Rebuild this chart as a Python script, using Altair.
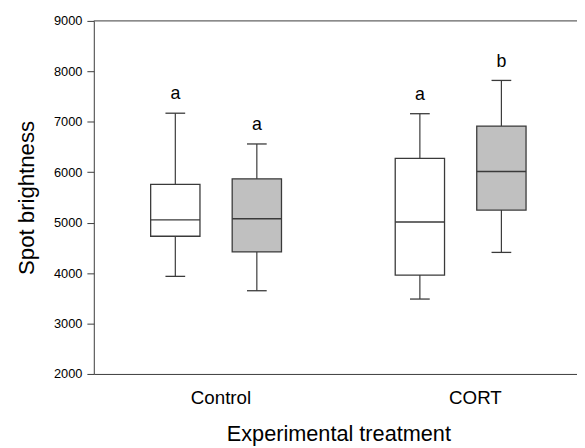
import altair as alt
import pandas as pd

groups = ["Control", "Control", "CORT", "CORT"]
series = ["A", "B", "A", "B"]
wmin = [3935, 3650, 3485, 4410]
q1 = [4730, 4420, 3960, 5250]
med = [5055, 5075, 5015, 6015]
q3 = [5760, 5870, 6275, 6915]
wmax = [7170, 6560, 7160, 7820]
letters = ["a", "a", "a", "b"]
fills = ["white", "#c0c0c0"]

df = pd.DataFrame({
    "group": groups, "series": series, "wmin": wmin, "q1": q1,
    "med": med, "q3": q3, "wmax": wmax, "letter": letters,
})

FONT = "Liberation Sans"
LINE = "#3a3a3a"

xenc = alt.X(
    "group:N", sort=["Control", "CORT"],
    scale=alt.Scale(paddingInner=0, paddingOuter=0),
    axis=alt.Axis(
        title="Experimental treatment", labelAngle=0, ticks=False,
        labelFontSize=19, labelPadding=15,
        labelOffset={"condition": {"test": "datum.label == 'CORT'", "value": 15}, "value": 5},
        labelColor="black",
        titleFontSize=22, titleFontWeight="normal", titlePadding=17, titleX=248,
        titleColor="black", domainColor=LINE, labelFont=FONT, titleFont=FONT,
    ),
)
xoff = alt.XOffset("series:N", scale=alt.Scale(paddingInner=0, paddingOuter=0.5))
yscale = alt.Scale(domain=[2000, 9000], nice=False, zero=False)
yaxis = alt.Axis(
    title="Spot brightness", values=list(range(2000, 9001, 1000)), format="d",
    grid=False, tickSize=7, tickColor=LINE, domainColor=LINE, labelFontSize=13,
    labelPadding=5, labelColor="black", titleFontSize=22.5, titleFontWeight="normal",
    titlePadding=15, titleColor="black", labelFont=FONT, titleFont=FONT,
)

base = alt.Chart(df)

whisk = base.mark_rule(color=LINE, strokeWidth=1.2).encode(
    x=xenc, xOffset=xoff,
    y=alt.Y("wmin:Q", scale=yscale, axis=yaxis), y2="wmax:Q",
)
box = base.mark_bar(size=50, stroke=LINE, strokeWidth=1.3).encode(
    x=xenc, xOffset=xoff, y=alt.Y("q1:Q"), y2="q3:Q",
    fill=alt.Fill("series:N", scale=alt.Scale(domain=["A", "B"], range=fills), legend=None),
)
median = base.mark_tick(size=50, thickness=1.5, color=LINE, opacity=1).encode(
    x=xenc, xOffset=xoff, y="med:Q",
)
capt = base.mark_tick(size=20, thickness=1.3, color=LINE, opacity=1).encode(
    x=xenc, xOffset=xoff, y="wmax:Q",
)
capb = base.mark_tick(size=20, thickness=1.3, color=LINE, opacity=1).encode(
    x=xenc, xOffset=xoff, y="wmin:Q",
)
text = base.mark_text(dy=-19, fontSize=18, font=FONT, color="black", baseline="middle").encode(
    x=xenc, xOffset=xoff, y="wmax:Q", text="letter:N",
)
top = alt.Chart(pd.DataFrame({"v": [9000]})).mark_rule(color=LINE, strokeWidth=1).encode(
    y=alt.Y("v:Q")
)

chart = alt.layer(whisk, box, median, capt, capb, text, top).properties(
    width=496, height=358,
    autosize=alt.AutoSizeParams(type="none"),
    padding={"left": 87, "top": 10, "right": -6, "bottom": 72},
).configure_view(stroke=None)

chart.save("out.html", embed_options={"renderer": "svg", "actions": False})
